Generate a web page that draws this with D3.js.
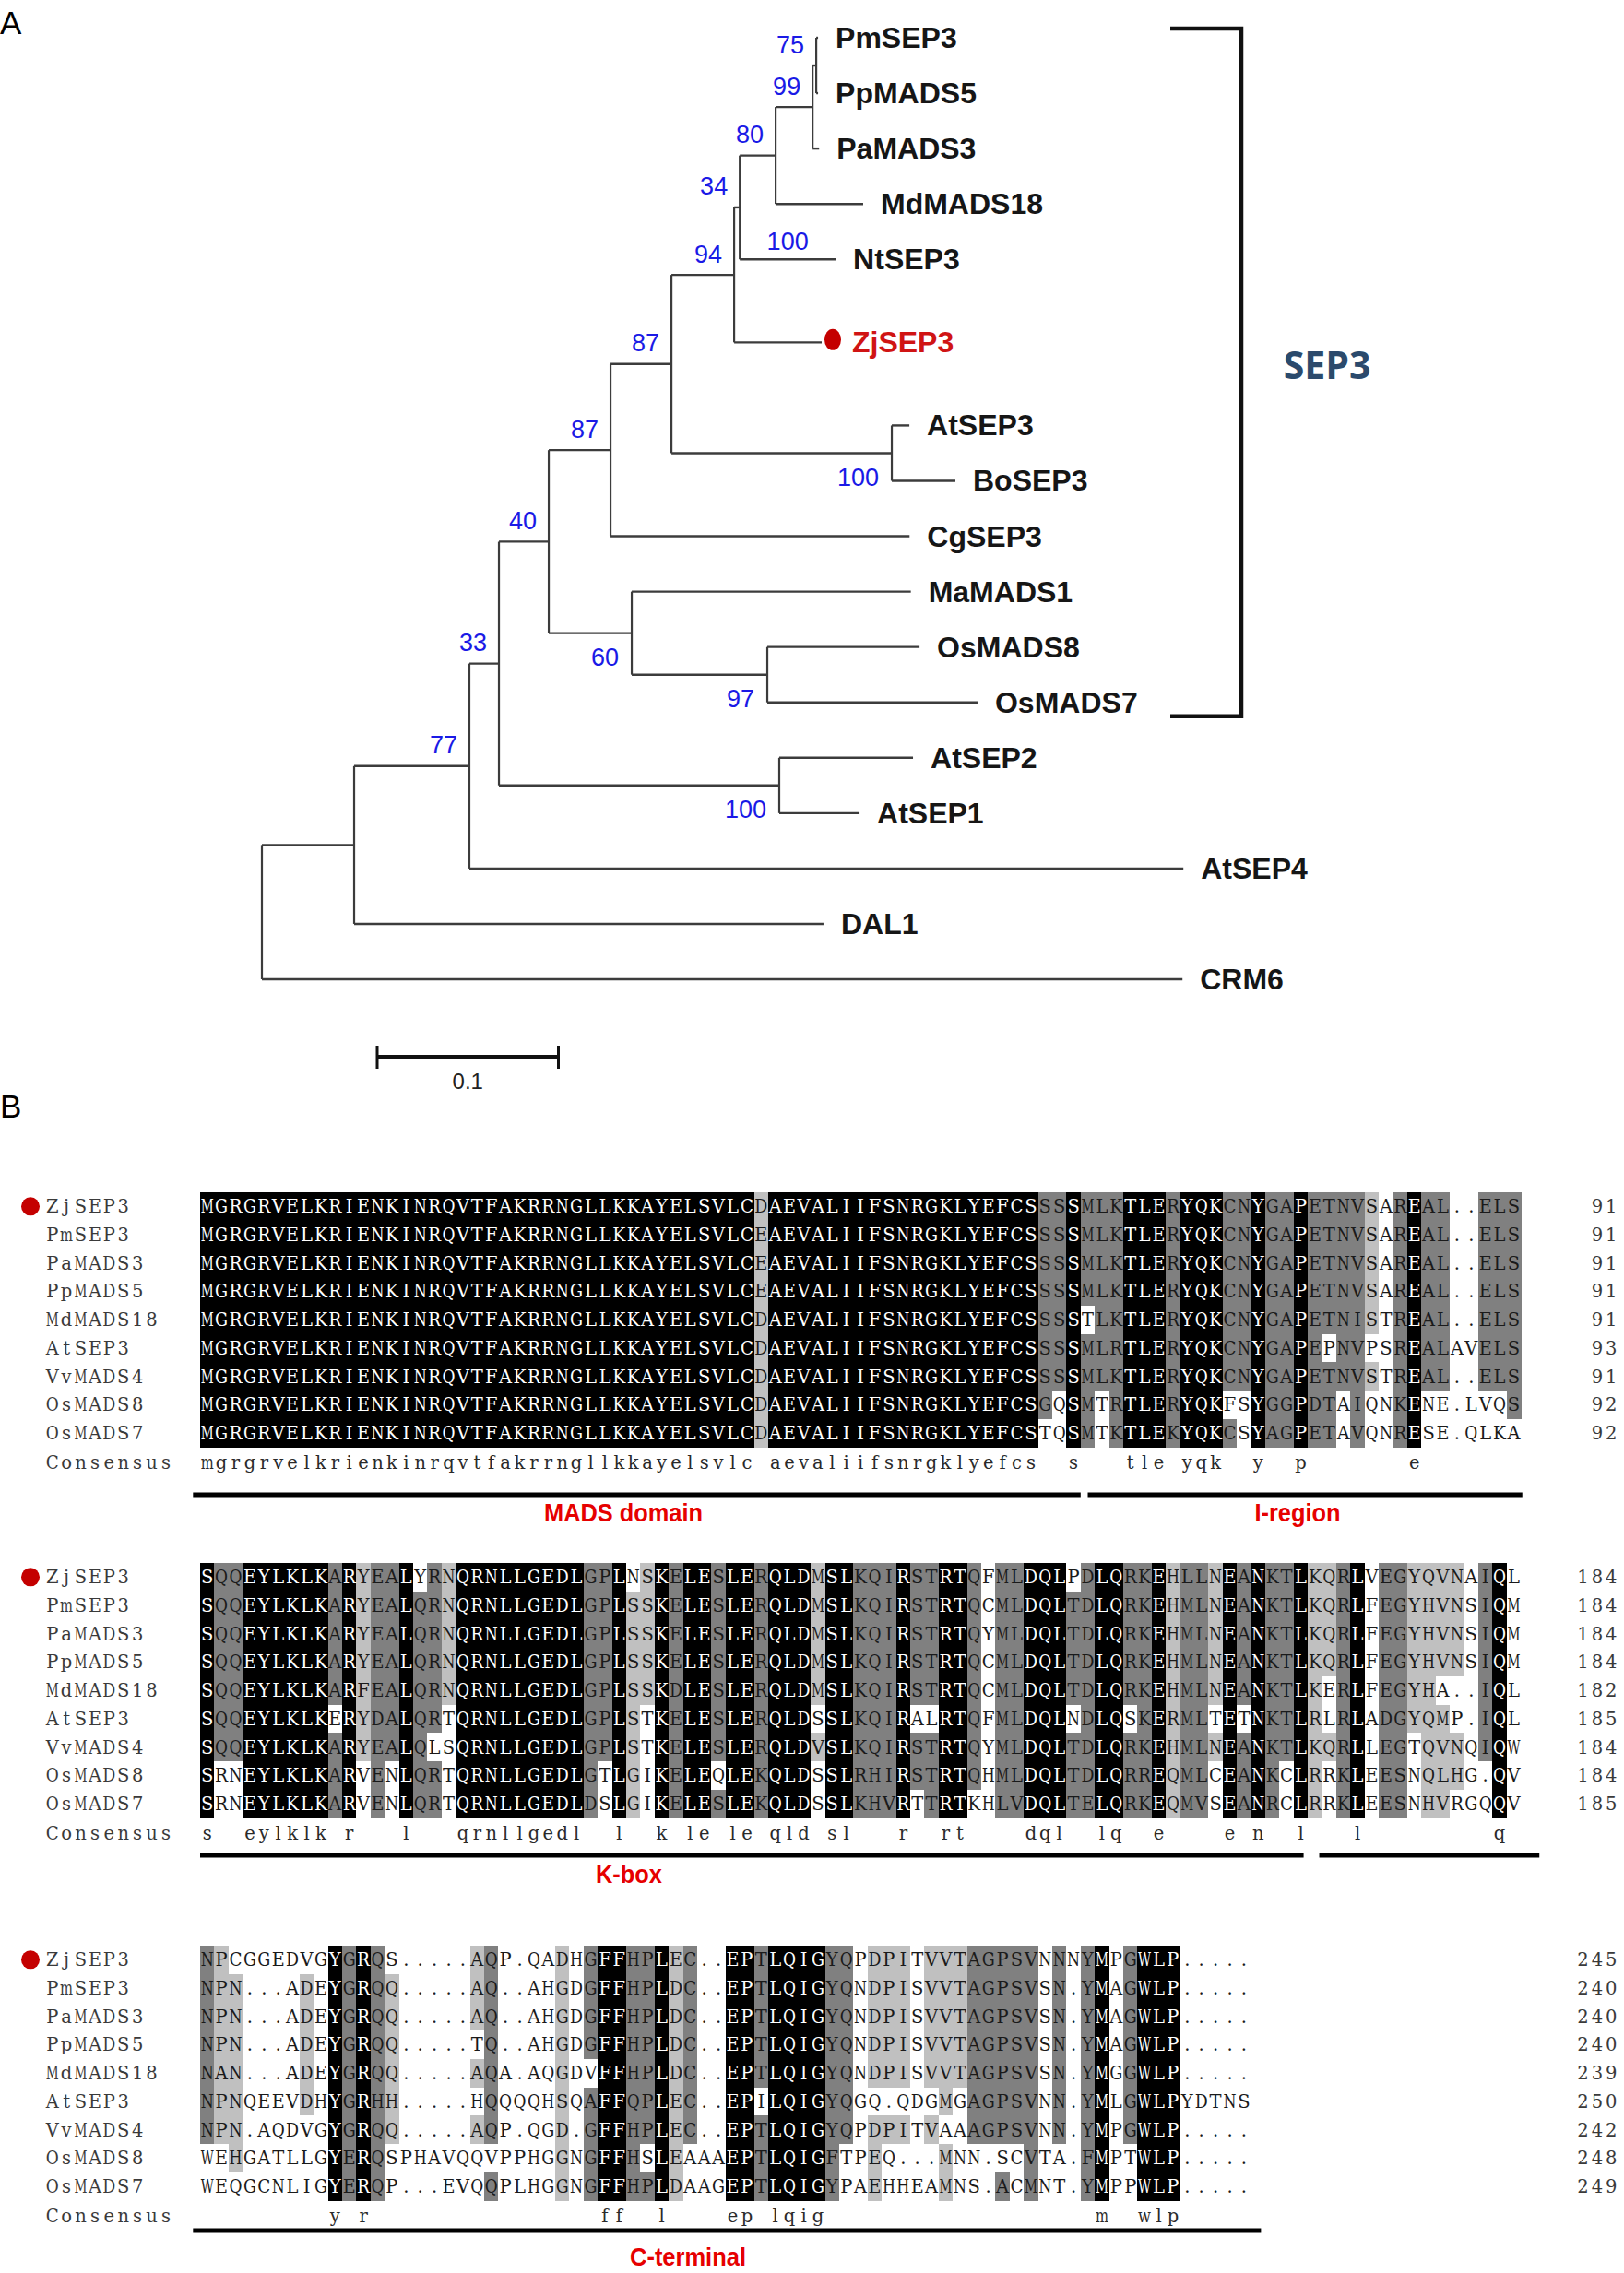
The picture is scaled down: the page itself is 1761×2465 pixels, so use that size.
<!DOCTYPE html>
<html><head><meta charset="utf-8">
<script src="https://cdn.jsdelivr.net/npm/d3@7"></script>
<style>body{margin:0;background:#fff}svg{display:block}</style>
</head><body>
<svg id="fig" width="1761" height="2465"></svg>
<script>
// ================= DATA =================
// Phylogenetic tree (panel A): node ids, parent ids, branch lengths, bootstrap values
const treeIds = ["R","A","CRM6","B","DAL1","C","AtSEP4","D","E","AtSEP2","AtSEP1","F","G","MaMADS1","H","OsMADS8","OsMADS7","I","CgSEP3","J","K","AtSEP3","BoSEP3","L","ZjSEP3","M","NtSEP3","N","MdMADS18","O","PaMADS3","PmSEP3","PpMADS5"];
const treeParents = ["","R","R","A","A","B","B","C","C","E","E","D","D","G","G","H","H","F","F","I","I","K","K","J","J","L","L","M","M","N","N","O","O"];
const branchLengths = [0,0.0509,0.508,0.0636,0.259,0.0163,0.394,0.0275,0.1547,0.0738,0.0443,0.0341,0.0458,0.154,0.0748,0.084,0.116,0.0336,0.165,0.0346,0.1216,0.0097,0.0351,0.0031,0.0483,0.0198,0.0529,0.0204,0.0483,0.002,0.0036,0.001,0.001];
const bootstraps = ["","","","77","","33","","40","100","","","87","60","","97","","","87","","94","100","","","34","","80","100","99","","75","","",""];
const highlightGene = "ZjSEP3";
const cladeName = "SEP3";
const cladeFirstLeaf = "PmSEP3", cladeLastLeaf = "OsMADS7";
const scaleBarValue = 0.1;

// Alignment (panel B)
const seqNames = ["ZjSEP3","PmSEP3","PaMADS3","PpMADS5","MdMADS18","AtSEP3","VvMADS4","OsMADS8","OsMADS7"];
const block1 = [
"MGRGRVELKRIENKINRQVTFAKRRNGLLKKAYELSVLCDAEVALIIFSNRGKLYEFCSSSSMLKTLERYQKCNYGAPETNVSAREAL..ELS",
"MGRGRVELKRIENKINRQVTFAKRRNGLLKKAYELSVLCEAEVALIIFSNRGKLYEFCSSSSMLKTLERYQKCNYGAPETNVSAREAL..ELS",
"MGRGRVELKRIENKINRQVTFAKRRNGLLKKAYELSVLCEAEVALIIFSNRGKLYEFCSSSSMLKTLERYQKCNYGAPETNVSAREAL..ELS",
"MGRGRVELKRIENKINRQVTFAKRRNGLLKKAYELSVLCEAEVALIIFSNRGKLYEFCSSSSMLKTLERYQKCNYGAPETNVSAREAL..ELS",
"MGRGRVELKRIENKINRQVTFAKRRNGLLKKAYELSVLCDAEVALIIFSNRGKLYEFCSSSSTLKTLERYQKCNYGAPETNISTREAL..ELS",
"MGRGRVELKRIENKINRQVTFAKRRNGLLKKAYELSVLCDAEVALIIFSNRGKLYEFCSSSSMLRTLERYQKCNYGAPEPNVPSREALAVELS",
"MGRGRVELKRIENKINRQVTFAKRRNGLLKKAYELSVLCDAEVALIIFSNRGKLYEFCSSSSMLKTLERYQKCNYGAPETNVSTREAL..ELS",
"MGRGRVELKRIENKINRQVTFAKRRNGLLKKAYELSVLCDAEVALIIFSNRGKLYEFCSGQSMTRTLERYQKFSYGGPDTAIQNKENE.LVQS",
"MGRGRVELKRIENKINRQVTFAKRRNGLLKKAYELSVLCDAEVALIIFSNRGKLYEFCSTQSMTKTLEKYQKCSYAGPETAVQNRESE.QLKA"];
const block2 = [
"SQQEYLKLKARYEALYRNQRNLLGEDLGPLNSKELESLERQLDMSLKQIRSTRTQFMLDQLPDLQRKEHLLNEANKTLKQRLVEGYQVNAIQL",
"SQQEYLKLKARYEALQRNQRNLLGEDLGPLSSKELESLERQLDMSLKQIRSTRTQCMLDQLTDLQRKEHMLNEANKTLKQRLFEGYHVNSIQM",
"SQQEYLKLKARYEALQRNQRNLLGEDLGPLSSKELESLERQLDMSLKQIRSTRTQYMLDQLTDLQRKEHMLNEANKTLKQRLFEGYHVNSIQM",
"SQQEYLKLKARYEALQRNQRNLLGEDLGPLSSKELESLERQLDMSLKQIRSTRTQCMLDQLTDLQRKEHMLNEANKTLKQRLFEGYHVNSIQM",
"SQQEYLKLKARFEALQRNQRNLLGEDLGPLSSKDLESLERQLDMSLKQIRSTRTQCMLDQLTDLQRKEHMLNEANKTLKERLFEGYHA..IQL",
"SQQEYLKLKERYDALQRTQRNLLGEDLGPLSTKELESLERQLDSSLKQIRALRTQFMLDQLNDLQSKERMLTETNKTLRLRLADGYQMP.IQL",
"SQQEYLKLKARYEALQLSQRNLLGEDLGPLSTKELESLERQLDVSLKQIRSTRTQYMLDQLTDLQRKEHMLNEANKTLKQRLLEGTQVNQIQW",
"SRNEYLKLKARVENLQRTQRNLLGEDLGTLGIKELEQLEKQLDSSLRHIRSTRTQHMLDQLTDLQRREQMLCEANKCLRRKLEESNQLHG.QV",
"SRNEYLKLKARVENLQRTQRNLLGEDLDSLGIKELESLEKQLDSSLKHVRTTRTKHLVDQLTELQRKEQMVSEANRCLRRKLEESNHVRGQQV"];
const block3 = [
"NPCGGEDVGYGRQS.....AQP.QADHGFFHPLEC..EPTLQIGYQPDPITVVTAGPSVNNNYMPGWLP.....",
"NPN...ADEYGRQQ.....AQ..AHGDGFFHPLDC..EPTLQIGYQNDPISVVTAGPSVSN.YMAGWLP.....",
"NPN...ADEYGRQQ.....AQ..AHGDGFFHPLDC..EPTLQIGYQNDPISVVTAGPSVSN.YMAGWLP.....",
"NPN...ADEYGRQQ.....TQ..AHGDGFFHPLDC..EPTLQIGYQNDPISVVTAGPSVSN.YMAGWLP.....",
"NAN...ADEYGRQQ.....AQA.AQGDVFFHPLDC..EPTLQIGYQNDPISVVTAGPSVSN.YMGGWLP.....",
"NPNQEEVDHYGRHH.....HQQQQHSQAFFQPLEC..EPILQIGYQGQ.QDGMGAGPSVNN.YMLGWLPYDTNS",
"NPN.AQDVGYGRQQ.....AQP.QGD.GFFHPLEC..EPTLQIGYQPDPITVAAAGPSVNN.YMPGWLP.....",
"WEHGATLLGYERQSPHAVQQVPPHGGNGFFHSLEAAAEPTLQIGFTPEQ...MNN.SCVTA.FMPTWLP.....",
"WEQGCNLIGYERQP...EVQQPLHGGNGFFHPLDAAGEPTLQIGYPAEHHEAMNS.ACMNT.YMPPWLP....."];
// domain annotations: block index, column range (in alignment columns), label
const domainBlock = [0,0,1,1,2];
const domainFrom  = [-0.5,62.5,0,78.8,-0.5];
const domainTo    = [62,93.1,77.7,94.3,74.7];
const domainLabel = ["MADS domain","I-region","K-box","","C-terminal"];
// residue pairs counted as similar when shading
const similarPairs = ["DE","KR","AG","FY","IL","IM","IV","LM","LV","MV","HN","HQ","HR","DG","EG","GS","AP"];

// ================= DRAW =================
const svg = d3.select("#fig");
svg.append("rect").attr("width",1761).attr("height",2465).attr("fill","#fff");
const SANS = "'Liberation Sans', Arial, Helvetica, sans-serif";
const SERIF = "'DejaVu Serif', 'Liberation Serif', serif";
const FS = 19.5, cw = 15.4, rh = 30.7, x0 = 217, maxGlyph = 14;

// measure glyph widths so proportional serif glyphs fit a fixed cell
const meas = svg.append("text").attr("font-family",SERIF).attr("font-size",FS).attr("x",-500).attr("y",-500);
const widthCache = {};
function glyphW(ch){
  if(!(ch in widthCache)){ meas.text(ch); widthCache[ch] = meas.node().getComputedTextLength(); }
  return widthCache[ch];
}
function monoChars(sel, chars, xCenter, y, fill){
  const t = sel.selectAll(null).data(chars).join("text")
    .attr("x",(d,i)=>xCenter(i)).attr("y",y).attr("text-anchor","middle")
    .attr("font-family",SERIF).attr("font-size",FS)
    .attr("fill",(d,i)=> typeof fill==="function"? fill(d,i) : fill).text(d=>d);
  t.each(function(d){ if(d!==" " && glyphW(d)>maxGlyph){ d3.select(this).attr("textLength",maxGlyph).attr("lengthAdjust","spacingAndGlyphs"); } });
  return t;
}

// panel letters
svg.append("text").attr("x",0).attr("y",37).attr("font-family",SANS).attr("font-size",35).text("A");
svg.append("text").attr("x",0).attr("y",1212).attr("font-family",SANS).attr("font-size",35).text("B");

// ---- tree ----
const recs = treeIds.map((id,i)=>({id, parent:treeParents[i], len:branchLengths[i], bs:bootstraps[i]}));
const root = d3.stratify().id(d=>d.id).parentId(d=>d.parent)(recs);
root.eachBefore(n=>{ n.dist = n.parent ? n.parent.dist + n.data.len : 0; });
const xT = d3.scaleLinear().domain([0, scaleBarValue]).range([284, 284+196.5]);
const leaves = root.leaves();
const hiIdx = leaves.findIndex(l=>l.data.id===highlightGene);
const yT = d3.scaleLinear().domain([0, leaves.length]).range([41, 41+leaves.length*60.06]);
leaves.forEach((l,i)=>{ const slot = i + (i>=hiIdx?0.5:0) + (i>hiIdx?0.5:0); l.py = yT(slot); });
root.eachAfter(n=>{ if(n.children){ n.py = (n.children[0].py + n.children[n.children.length-1].py)/2; } n.px = xT(n.dist); });

const gT = svg.append("g");
const lineCol = "#3c3c3c";
root.descendants().forEach(n=>{
  if(n.parent){
    gT.append("path").attr("d",`M${n.parent.px},${n.py}H${n.px}`).attr("stroke",lineCol).attr("stroke-width",2.4).attr("fill","none");
  }
  if(n.children){
    const a=n.children[0], b=n.children[n.children.length-1];
    gT.append("path").attr("d",`M${n.px},${a.py}V${b.py}`).attr("stroke",lineCol).attr("stroke-width",2.2).attr("fill","none");
  }
});
// leaf labels
leaves.forEach(l=>{
  const hi = l.data.id===highlightGene;
  if(hi){
    gT.append("ellipse").attr("cx",l.px+12).attr("cy",l.py-3).attr("rx",9).attr("ry",11.5).attr("fill","#c40000");
  }
  gT.append("text").attr("x", l.px + (hi?33:19)).attr("y", l.py+11)
    .attr("font-family",SANS).attr("font-weight","bold").attr("font-size",32)
    .attr("fill", hi?"#d01414":"#161616").text(l.data.id);
});
// bootstrap values
root.descendants().forEach(n=>{
  if(!n.data.bs) return;
  const t = gT.append("text").attr("font-family",SANS).attr("font-size",27).attr("fill","#1a1ae6").text(n.data.bs);
  if(!n.children){
    t.attr("x",(n.parent.px+n.px)/2).attr("y",n.py-20+9.5).attr("text-anchor","middle");
  } else {
    const sib = n.parent.children;
    const lower = sib.indexOf(n)===sib.length-1;
    if(lower) t.attr("x",n.px-14).attr("y",n.py+26+9.5).attr("text-anchor","end");
    else t.attr("x",n.px-13).attr("y",n.py-23+9.5).attr("text-anchor","end");
  }
});
// clade bracket
const leafY = id=>leaves.find(l=>l.data.id===id).py;
const bTop = leafY(cladeFirstLeaf)-10, bBot = leafY(cladeLastLeaf)+15;
gT.append("path").attr("d",`M1269,${bTop}H1346V${bBot}H1269`).attr("stroke","#111").attr("stroke-width",4.5).attr("fill","none");
gT.append("text").attr("x",1439).attr("y",(bTop+bBot)/2+7).attr("text-anchor","middle")
  .attr("font-family","'Open Sans', 'Noto Sans', sans-serif").attr("font-weight","bold").attr("font-size",41)
  .attr("fill","#2b4a6c").text(cladeName);
// scale bar
const sbX = 409, sbW = xT(scaleBarValue)-xT(0);
gT.append("path").attr("d",`M${sbX},1146H${sbX+sbW}`).attr("stroke","#111").attr("stroke-width",4);
gT.append("path").attr("d",`M${sbX},1134V1159M${sbX+sbW},1134V1159`).attr("stroke","#111").attr("stroke-width",3);
gT.append("text").attr("x",sbX+sbW/2).attr("y",1181).attr("text-anchor","middle").attr("font-family",SANS).attr("font-size",24).attr("fill","#222").text(scaleBarValue);

// ---- alignment ----
const simSet = new Set(); similarPairs.forEach(p=>{simSet.add(p); simSet.add(p[1]+p[0]);});
const isSim = (a,b)=> a===b || simSet.has(a+b);
const blocks = [block1, block2, block3];
const blockTop = [1293, 1695, 2110];
const barOff = [328, 317, 309];
const labOff = [347, 337, 337];
const labelX = {"MADS domain":676, "I-region":1407, "K-box":682, "C-terminal":746};
const labelW = {"MADS domain":172, "I-region":93, "K-box":72, "C-terminal":126};
const shadeFill = ["#ffffff","#c0c0c0","#808080","#000000"];
const running = seqNames.map(()=>0);
const gA = svg.append("g");
const baseDy = 7;

blocks.forEach((blk,bi)=>{
  const top = blockTop[bi];
  const ncol = blk[0].length;
  const xA = d3.scaleLinear().domain([0,ncol]).range([x0, x0+ncol*cw]);
  const yA = d3.scaleLinear().domain([0,1]).range([top, top+rh]);
  const N = blk.length;
  const shade = blk.map(()=>[]);
  const consensus = [];
  for(let c=0;c<ncol;c++){
    const col = blk.map(s=>s[c]);
    const res = col.filter(r=>r!=='.');
    const counts = d3.rollups(res, v=>v.length, d=>d);
    counts.sort((a,b)=> b[1]-a[1] || res.filter(r=>isSim(r,b[0])).length - res.filter(r=>isSim(r,a[0])).length);
    const best = counts.length?counts[0][0]:'.';
    const n = counts.length?counts[0][1]:0;
    const level = n===N ? 3 : n>=0.75*N ? 2 : n>=0.5*N ? 1 : 0;
    consensus.push(level===3 ? best.toLowerCase() : " ");
    col.forEach((r,ri)=>{ shade[ri][c] = (level>0 && r!=='.' && isSim(r,best)) ? level : 0; });
  }
  blk.forEach((s,ri)=>{
    const yc = yA(ri)+rh/2;
    const chars = s.split("");
    // name (fixed-pitch)
    monoChars(gA.append("g"), seqNames[ri].split(""), i=>49+i*cw+cw/2, yc+baseDy, "#3a3a3a");
    if(seqNames[ri]===highlightGene){
      gA.append("circle").attr("cx",33).attr("cy",yc).attr("r",10).attr("fill","#c40000");
    }
    const cells = gA.append("g");
    cells.selectAll("rect").data(chars).join("rect")
      .attr("x",(d,c)=>xA(c)).attr("y",yA(ri)).attr("width",cw+0.6).attr("height",rh+0.6)
      .attr("fill",(d,c)=>shadeFill[shade[ri][c]]).attr("shape-rendering","crispEdges");
    monoChars(cells.append("g"), chars, c=>xA(c)+cw/2, yc+baseDy, (d,c)=> shade[ri][c]===3 ? "#ffffff" : "#1a1a1a");
    running[ri] += s.replace(/\./g,"").length;
    const num = String(running[ri]).split("");
    monoChars(gA.append("g"), num, i=>1755-(num.length-i)*cw+cw/2, yc+baseDy, "#3a3a3a");
  });
  // consensus
  const yc = yA(N)+rh/2+1;
  monoChars(gA.append("g"), "Consensus".split(""), i=>49+i*cw+cw/2, yc+baseDy, "#3a3a3a");
  monoChars(gA.append("g"), consensus, c=>xA(c)+cw/2, yc+baseDy, "#2a2a2a");
  // domain bars
  domainBlock.forEach((b,di)=>{
    if(b!==bi) return;
    gA.append("rect").attr("x",xA(domainFrom[di])).attr("y",top+barOff[bi]-2.5)
      .attr("width",xA(domainTo[di])-xA(domainFrom[di])).attr("height",5).attr("fill","#000");
    const lab = domainLabel[di];
    if(lab){
      gA.append("text").attr("x",labelX[lab]-labelW[lab]/2).attr("y",top+labOff[bi]+10)
        .attr("font-family",SANS).attr("font-weight","bold").attr("font-size",27)
        .attr("textLength",labelW[lab]).attr("lengthAdjust","spacingAndGlyphs")
        .attr("fill","#e60000").text(lab);
    }
  });
});
meas.remove();
</script>
</body></html>
